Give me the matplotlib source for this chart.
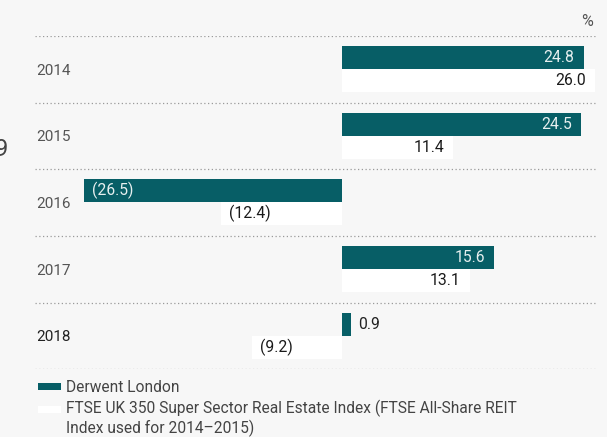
import matplotlib
matplotlib.use("Agg")
import matplotlib.pyplot as plt
from matplotlib.patches import Rectangle

years = ["2014", "2015", "2016", "2017", "2018"]
derwent = [24.8, 24.5, -26.5, 15.6, 0.9]
ftse = [26.0, 11.4, -12.4, 13.1, -9.2]
series_names = ["Derwent London",
                "FTSE UK 350 Super Sector Real Estate Index (FTSE All-Share REIT\nIndex used for 2014\u20132015)"]

BG = "#f7f7f7"
TEAL = "#075e66"
WHITE = "#ffffff"
FONT = ["Roboto", "DejaVu Sans"]
plt.rcParams["font.family"] = FONT

W, H = 607, 437
fig = plt.figure(figsize=(W / 100, H / 100), dpi=100, facecolor=BG)

def fx(px):
    return px / W

def fy(py):
    return 1 - py / H

left_px, right_px, top_px, bot_px = 35, 597, 36, 369.3
ax = fig.add_axes([fx(left_px), fy(bot_px), fx(right_px - left_px), (bot_px - top_px) / H])
ax.set_facecolor(BG)
ax.set_xlim(-31.52, 26.18)
ax.set_ylim(len(years), 0)
for s in ax.spines.values():
    s.set_visible(False)
ax.set_xticks([])
ax.set_yticks([])

idx = list(range(len(years)))
bh = 0.345
y_d = [i + 0.15 + bh / 2 for i in idx]
y_f = [i + 0.15 + bh + bh / 2 for i in idx]

ax.barh(y_d, derwent, height=bh, color=TEAL, zorder=2)
ax.barh(y_f, ftse, height=bh, color=WHITE, zorder=2)

for k in range(len(years) + 1):
    ax.axhline(k, color="#9a9a9a", lw=0.9, linestyle=(0, (1, 2)), zorder=1)

def label(v, y, inside_color, outside_color):
    txt = f"{abs(v):.1f}" if v >= 0 else f"({abs(v):.1f})"
    if abs(v) < 3:
        off, ha, col = (7 if v >= 0 else -7), ("left" if v >= 0 else "right"), outside_color
    else:
        off, ha, col = (-9 if v >= 0 else 8), ("right" if v >= 0 else "left"), inside_color
    ax.annotate(txt, (v, y), xytext=(off, 0), textcoords="offset pixels",
                ha=ha, va="center", fontsize=11.3, color=col, zorder=3)

for i in idx:
    label(derwent[i], y_d[i], "#e6efef", "#222222")
    label(ftse[i], y_f[i], "#1a1a1a", "#222222")

for i, yr in enumerate(years):
    fig.text(fx(36), fy(top_px + (i + 0.52) * (bot_px - top_px) / len(years)), yr,
             ha="left", va="center", fontsize=11,
             color="#222222" if i == len(years) - 1 else "#555555")

fig.text(fx(593), fy(22), "%", ha="right", va="center", fontsize=11.5, color="#555555")
fig.text(fx(-5), fy(149), "9", ha="left", va="center", fontsize=17, color="#444444")

fig.patches.append(Rectangle((fx(38), fy(390)), fx(23), 7 / H, transform=fig.transFigure,
                             facecolor=TEAL, edgecolor="none"))
fig.text(fx(66), fy(387), series_names[0], ha="left", va="center", fontsize=11.2, color="#444444")
fig.patches.append(Rectangle((fx(38), fy(413)), fx(23), 7 / H, transform=fig.transFigure,
                             facecolor=WHITE, edgecolor="none"))
fig.text(fx(66), fy(400), series_names[1], ha="left", va="top", fontsize=11.2, color="#444444",
         linespacing=1.2)

fig.savefig("out.png", dpi=100, facecolor=BG)
